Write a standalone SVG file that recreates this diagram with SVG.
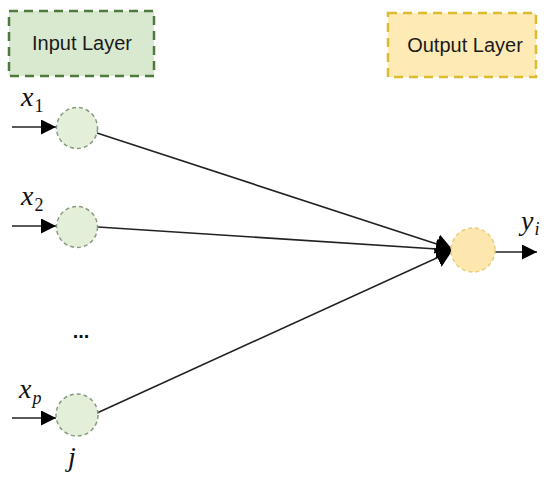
<svg xmlns="http://www.w3.org/2000/svg" width="550" height="484" viewBox="0 0 550 484">
<defs>
<marker id="big" viewBox="0 0 16 20" refX="16" refY="10" markerWidth="16" markerHeight="20" markerUnits="userSpaceOnUse" orient="auto"><path d="M0,0 L16,10 L0,20 Z" fill="#000"/></marker>
<marker id="small" viewBox="0 0 15 15" refX="15" refY="7.5" markerWidth="15" markerHeight="15" markerUnits="userSpaceOnUse" orient="auto"><path d="M0,0 L15,7.5 L0,15 Z" fill="#000"/></marker>
</defs>
<style>
.lbl{font-family:"Liberation Sans",Arial,sans-serif;font-size:20px;fill:#1a1a1a;text-anchor:middle}
.math{font-family:"Liberation Serif","Times New Roman",serif;font-style:italic;font-size:28px;fill:#111}
.sub{font-family:"Liberation Serif","Times New Roman",serif;font-size:18px;fill:#111}
.subi{font-family:"Liberation Serif","Times New Roman",serif;font-style:italic;font-size:18px;fill:#111}
.in{fill:#e3efd9;stroke:#8a9a80;stroke-width:1.5;stroke-dasharray:4 3}
.out{fill:#fde7ae;stroke:#e6cf7a;stroke-width:1.5;stroke-dasharray:4 3}
.edge{stroke:#222;stroke-width:1.6;fill:none}
</style>
<g id="input-layer">
<rect x="9" y="11" width="145" height="65" fill="#d9e9cf" stroke="#4f7a3e" stroke-width="2.5" stroke-dasharray="9 6"/>
<text class="lbl" x="82" y="50">Input Layer</text>
</g>
<g id="output-layer">
<rect x="388" y="13" width="148" height="64" fill="#fdeab5" stroke="#dcbc2e" stroke-width="2.5" stroke-dasharray="9 6"/>
<text class="lbl" x="465" y="52">Output Layer</text>
</g>
<g id="connectors">
<line class="edge" x1="12" y1="127" x2="56" y2="127" marker-end="url(#small)"/>
<line class="edge" x1="12" y1="226" x2="56" y2="226" marker-end="url(#small)"/>
<line class="edge" x1="12" y1="418" x2="56" y2="418" marker-end="url(#small)"/>
<line class="edge" x1="97" y1="133" x2="452" y2="249" marker-end="url(#big)"/>
<line class="edge" x1="98" y1="227" x2="452" y2="250" marker-end="url(#big)"/>
<line class="edge" x1="97" y1="413" x2="452" y2="251" marker-end="url(#big)"/>
<line class="edge" x1="495" y1="252" x2="537" y2="252" marker-end="url(#small)"/>
</g>
<g id="node-x1">
<circle class="in" cx="77" cy="128" r="20.5"/>
<text x="21" y="106"><tspan class="math">x</tspan><tspan class="sub" dx="1" dy="6">1</tspan></text>
</g>
<g id="node-x2">
<circle class="in" cx="77" cy="227" r="20.5"/>
<text x="21" y="205"><tspan class="math">x</tspan><tspan class="sub" dx="1" dy="6">2</tspan></text>
</g>
<g id="ellipsis">
<text x="81" y="338" font-family="Liberation Sans,Arial,sans-serif" font-size="20" font-weight="bold" text-anchor="middle" fill="#111">...</text>
</g>
<g id="node-xp">
<circle class="in" cx="77" cy="415" r="21"/>
<text x="19" y="398"><tspan class="math">x</tspan><tspan class="subi" dx="1" dy="6">p</tspan></text>
<text class="math" x="72" y="466" text-anchor="middle">j</text>
</g>
<g id="node-y">
<circle class="out" cx="473" cy="250" r="22"/>
<text x="521" y="230"><tspan class="math">y</tspan><tspan class="subi" dx="1" dy="5">i</tspan></text>
</g>
</svg>
